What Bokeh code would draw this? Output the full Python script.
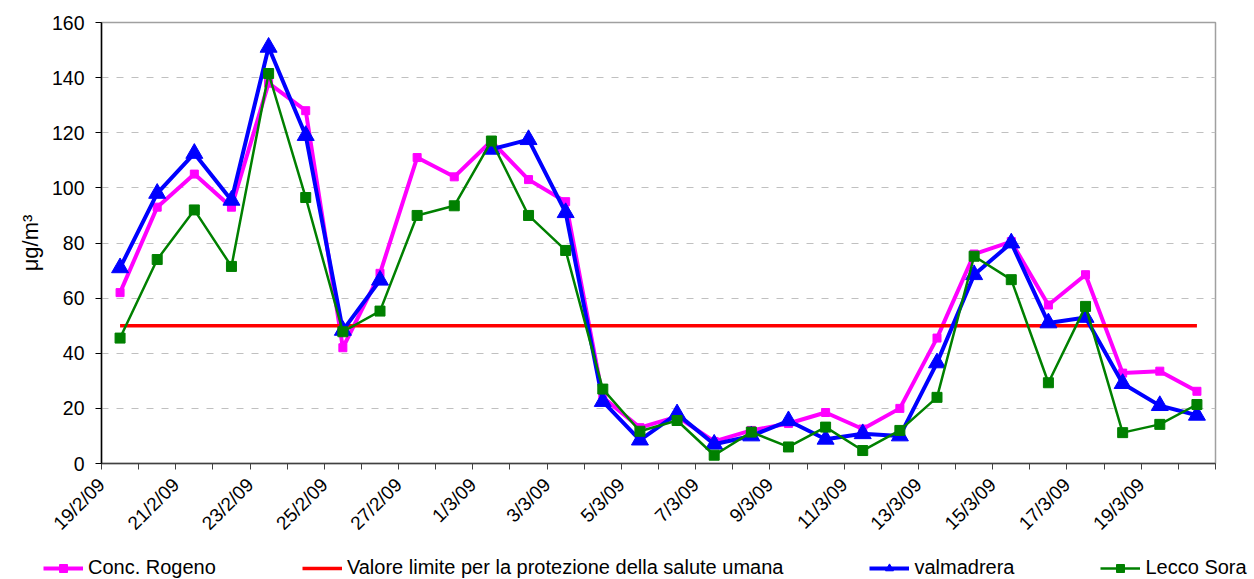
import math
from bokeh.plotting import figure
from bokeh.models import Range1d, FixedTicker, Legend, LegendItem
from bokeh.embed import file_html
from bokeh.resources import INLINE

# ---- data ----
dates = ["19/2/09", "20/2/09", "21/2/09", "22/2/09", "23/2/09", "24/2/09", "25/2/09",
         "26/2/09", "27/2/09", "28/2/09", "1/3/09", "2/3/09", "3/3/09", "4/3/09",
         "5/3/09", "6/3/09", "7/3/09", "8/3/09", "9/3/09", "10/3/09", "11/3/09",
         "12/3/09", "13/3/09", "14/3/09", "15/3/09", "16/3/09", "17/3/09", "18/3/09",
         "19/3/09", "20/3/09"]
rogeno = [62, 93, 105, 93, 138, 128, 42, 69, 111, 104, 117, 103, 95, 24, 13, 17, 8,
          12, 14.5, 18.5, 12.5, 20, 45.5, 76, 80.5, 57.5, 68.5, 32.8, 33.5, 26.2]
limite = [50] * 30
valmadrera = [71, 98, 112.5, 95.5, 151, 119, 48.3, 66.5, float("nan"), float("nan"),
              114, 117.5, 91, 22.5, 8.5, 18, 7, 10, 15.5, 8.8, 10.8, 10, 36.5, 68.5,
              80, 51, 53, 29, 21, 17.5]
lecco = [45.5, 74, 92, 71.5, 141.5, 96.5, 47.8, 55.3, 90, 93.5, 117, 90, 77.3, 27,
         11.7, 15.6, 3, 11.4, 6, 13.2, 4.7, 12, 24, 75.2, 66.7, 29.3, 57, 11.2, 14.2, 21.4]
series_names = ["Conc. Rogeno", "Valore limite per la protezione della salute umana",
                "valmadrera", "Lecco Sora"]

x = [i + 0.5 for i in range(len(dates))]
FONT = "Liberation Sans"
PINK, RED, BLUE, GREEN = "#FF00FF", "#FF0000", "#0000FF", "#008000"

p = figure(width=1254, height=550, output_backend="svg", toolbar_location=None,
           x_range=Range1d(0, 30), y_range=Range1d(0, 160),
           min_border_left=101, min_border_right=39, min_border_top=22, min_border_bottom=87)
p.background_fill_color = "white"
p.border_fill_color = "white"
p.outline_line_color = "#a0a0a0"
p.outline_line_width = 1.5

# axes
p.xaxis.ticker = FixedTicker(ticks=list(range(31)))
p.xaxis.major_label_overrides = {i: (dates[i] if (i % 2 == 0 and i < len(dates)) else "") for i in range(31)}
p.xaxis.major_label_orientation = math.pi / 4
p.xaxis.minor_tick_line_color = None
p.xaxis.major_tick_out = 6
p.xaxis.major_tick_in = 0
p.xaxis.axis_line_color = "#404040"
p.xaxis.major_tick_line_color = "#404040"
p.xaxis.axis_line_width = 1.5
p.xaxis.major_label_text_font = FONT
p.xaxis.major_label_text_font_size = "19px"
p.xaxis.major_label_text_color = "black"
p.xaxis.major_label_standoff = 12

p.yaxis.ticker = FixedTicker(ticks=list(range(0, 161, 20)))
p.yaxis.minor_tick_line_color = None
p.yaxis.major_tick_out = 6
p.yaxis.major_tick_in = 0
p.yaxis.axis_line_color = "black"
p.yaxis.major_tick_line_color = "black"
p.yaxis.axis_line_width = 1.5
p.yaxis.major_label_text_font = FONT
p.yaxis.major_label_text_font_size = "19.5px"
p.yaxis.major_label_text_color = "black"
p.yaxis.major_label_standoff = 11
p.yaxis.axis_label = "μg/m³"
p.yaxis.axis_label_text_font = FONT
p.yaxis.axis_label_text_font_size = "22px"
p.yaxis.axis_label_text_font_style = "normal"
p.yaxis.axis_label_text_color = "black"
p.yaxis.axis_label_standoff = 6

p.xgrid.grid_line_color = None
p.ygrid.grid_line_color = "#c0c0c0"
p.ygrid.grid_line_dash = "7 8"
p.ygrid.grid_line_width = 1

# series
p.line(x, rogeno, line_color=PINK, line_width=4)
p.scatter(x, rogeno, marker="square", size=8, fill_color=PINK, line_color=PINK)
p.line(x, limite, line_color=RED, line_width=3.5)
p.line(x, valmadrera, line_color=BLUE, line_width=4)
p.scatter(x, valmadrera, marker="triangle", size=17, fill_color=BLUE, line_color=BLUE)
p.line(x, lecco, line_color=GREEN, line_width=2.5)
p.scatter(x, lecco, marker="square", size=10, fill_color=GREEN, line_color=GREEN)

# legend strip below the chart (proxy glyphs lie outside the visible range)
q = figure(width=1254, height=29, output_backend="svg", toolbar_location=None,
           x_axis_type=None, y_axis_type=None,
           x_range=Range1d(0, 1), y_range=Range1d(0, 1),
           min_border_left=0, min_border_right=0, min_border_top=0, min_border_bottom=0)
q.grid.grid_line_color = None
q.outline_line_color = None
q.background_fill_color = "white"
q.border_fill_color = "white"
hx, hy = [-10, -9], [-10, -10]
l_pl = q.line(hx, hy, line_color=PINK, line_width=4)
l_pm = q.scatter(hx, hy, marker="square", size=8, fill_color=PINK, line_color=PINK)
l_red = q.line(hx, hy, line_color=RED, line_width=3.5)
l_bl = q.line(hx, hy, line_color=BLUE, line_width=4)
l_bm = q.scatter(hx, hy, marker="triangle", size=14, fill_color=BLUE, line_color=BLUE)
l_gl = q.line(hx, hy, line_color=GREEN, line_width=2.5)
l_gm = q.scatter(hx, hy, marker="square", size=10, fill_color=GREEN, line_color=GREEN)
legend = Legend(items=[LegendItem(label=series_names[0], renderers=[l_pl, l_pm], index=0),
                       LegendItem(label=series_names[1], renderers=[l_red], index=0),
                       LegendItem(label=series_names[2], renderers=[l_bl, l_bm], index=0),
                       LegendItem(label=series_names[3], renderers=[l_gl, l_gm], index=0)],
                location=(43, 0), orientation="horizontal",
                glyph_width=40, glyph_height=20, label_standoff=5, spacing=86,
                padding=0, margin=0, border_line_color=None, background_fill_alpha=0,
                label_text_font=FONT, label_text_font_size="20px", label_text_color="black")
q.add_layout(legend, "center")

open("out.html", "w").write(file_html([p, q], INLINE))
